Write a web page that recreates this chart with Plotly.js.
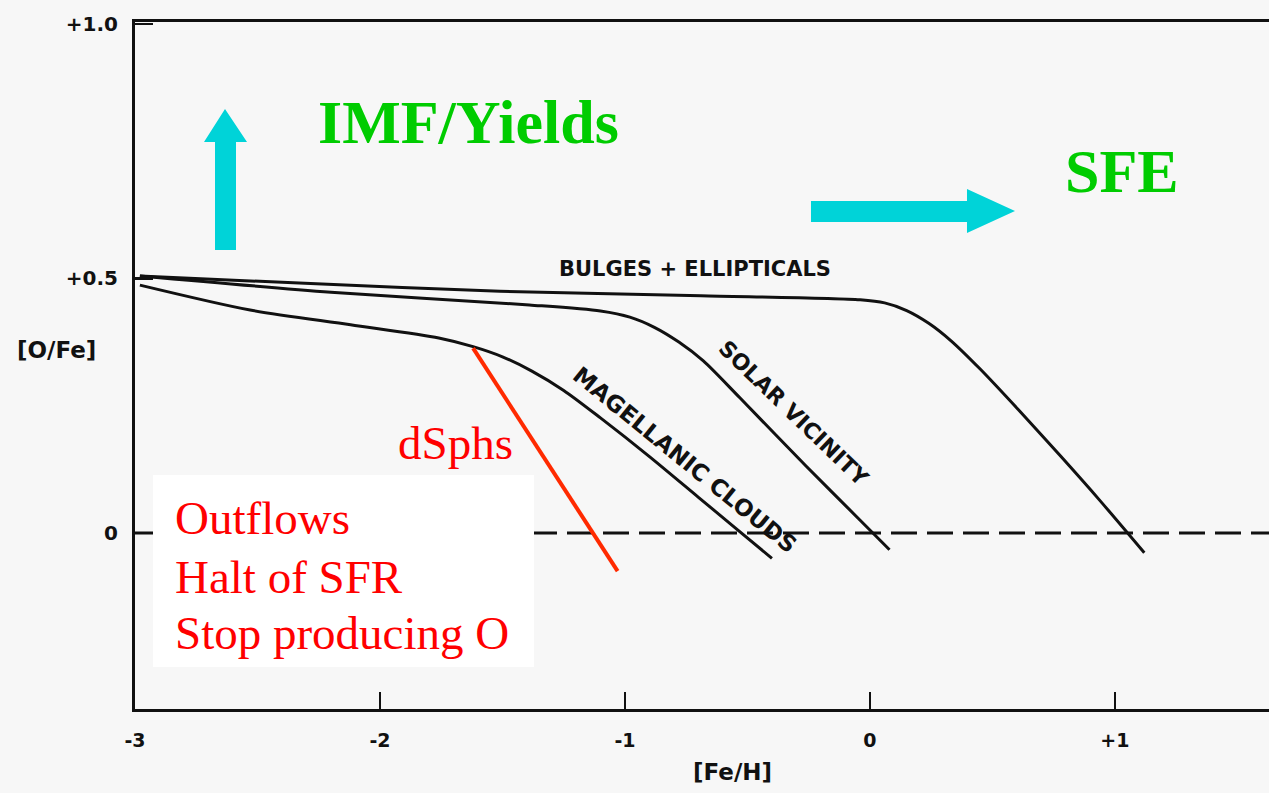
<!DOCTYPE html>
<html>
<head>
<meta charset="utf-8">
<script src="https://cdn.plot.ly/plotly-3.0.1.min.js"></script>
<style>
  html, body { margin: 0; padding: 0; background: #f7f7f7; }
  #chart { width: 1269px; height: 793px; }
</style>
</head>
<body>
<div id="chart"></div>
<script>
// [O/Fe] vs [Fe/H] tracks for different galaxy types
const bulgesFeH = [-2.98, -2.33, -1.51, -0.69, -0.04, 0.06, 0.15, 0.24, 0.33, 0.45, 0.61, 0.78, 0.94, 1.12];
const bulgesOFe = [0.505, 0.491, 0.475, 0.466, 0.458, 0.452, 0.437, 0.412, 0.378, 0.322, 0.240, 0.150, 0.063, -0.039];

const solarFeH = [-2.98, -2.20, -1.39, -1.10, -0.98, -0.88, -0.78, -0.68, -0.53, -0.26, -0.04, 0.08];
const solarOFe = [0.505, 0.473, 0.448, 0.436, 0.424, 0.404, 0.375, 0.338, 0.265, 0.131, 0.025, -0.033];

const magellanicFeH = [-2.98, -2.53, -2.12, -1.76, -1.62, -1.50, -1.38, -1.25, -1.10, -0.90, -0.70, -0.55, -0.40];
const magellanicOFe = [0.487, 0.438, 0.409, 0.383, 0.366, 0.346, 0.318, 0.280, 0.226, 0.150, 0.070, 0.010, -0.050];

const dsphFeH = [-1.62, -1.03];
const dsphOFe = [0.363, -0.075];

const solarRefFeH = [-3, 1.629];
const solarRefOFe = [0, 0];

const xTickVals = [-3, -2, -1, 0, 1];
const xTickText = ['-3', '-2', '-1', '0', '+1'];
const yTickVals = [0, 0.5, 1.0];
const yTickText = ['0', '+0.5', '+1.0'];

// axis extents and plot frame (pixels)
const X_RANGE = [-3, 1.629];
const Y_RANGE = [-0.346, 1.004];
const M = { l: 135, r: 0, t: 22, b: 84 };
const W = 1269, H = 793;
const plotW = W - M.l - M.r, plotH = H - M.t - M.b;

// pixel -> data helpers for decorative shapes
const px2x = px => X_RANGE[0] + (px - M.l) / plotW * (X_RANGE[1] - X_RANGE[0]);
const py2y = py => Y_RANGE[1] - (py - M.t) / plotH * (Y_RANGE[1] - Y_RANGE[0]);
const pathFrom = pts => 'M ' + pts.map(p => px2x(p[0]).toFixed(4) + ',' + py2y(p[1]).toFixed(4)).join(' L ') + ' Z';

const ink = '#111111';
const cyan = '#00d3d8';
const green = '#00cc00';
const red = '#ff0000';

const trackLine = { color: ink, width: 3, shape: 'spline', smoothing: 0.8 };

const traces = [
  { x: solarRefFeH, y: solarRefOFe, mode: 'lines', line: { color: ink, width: 3, dash: '26px,10px' }, hoverinfo: 'skip' },
  { x: bulgesFeH, y: bulgesOFe, mode: 'lines', line: trackLine, name: 'Bulges + Ellipticals' },
  { x: solarFeH, y: solarOFe, mode: 'lines', line: trackLine, name: 'Solar vicinity' },
  { x: magellanicFeH, y: magellanicOFe, mode: 'lines', line: trackLine, name: 'Magellanic Clouds' },
  { x: dsphFeH, y: dsphOFe, mode: 'lines', line: { color: '#ff2a00', width: 4 }, name: 'dSphs' }
];

const serif = 'Liberation Serif, Times New Roman, serif';
const sans = 'DejaVu Sans, sans-serif';

const upArrow = [[215, 250], [215, 142], [204, 142], [225, 109], [247, 142], [236, 142], [236, 250]];
const rightArrow = [[811, 201], [967, 201], [967, 189], [1015, 211], [967, 233], [967, 222], [811, 222]];

const layout = {
  width: W, height: H,
  margin: M,
  paper_bgcolor: '#f7f7f7',
  plot_bgcolor: '#f7f7f7',
  showlegend: false,
  xaxis: {
    range: X_RANGE, showgrid: false, zeroline: false,
    showline: true, mirror: true, linecolor: ink, linewidth: 3,
    ticks: 'inside', ticklen: 17, tickwidth: 2.5, tickcolor: ink,
    tickvals: xTickVals, ticktext: xTickText, ticklabelstandoff: 12,
    tickfont: { family: sans, size: 19, color: ink, weight: 'bold' }
  },
  yaxis: {
    range: Y_RANGE, showgrid: false, zeroline: false,
    showline: true, mirror: false, linecolor: ink, linewidth: 3,
    ticks: 'inside', ticklen: 18, tickwidth: 2.5, tickcolor: ink,
    tickvals: yTickVals, ticktext: yTickText, ticklabelstandoff: 10,
    tickfont: { family: sans, size: 20, color: ink, weight: 'bold' }
  },
  shapes: [
    { type: 'rect', xref: 'x', yref: 'y', x0: px2x(153), x1: px2x(534), y0: py2y(667), y1: py2y(475),
      fillcolor: '#ffffff', line: { width: 0 }, layer: 'above' },
    { type: 'path', xref: 'x', yref: 'y', path: pathFrom(upArrow), fillcolor: cyan, line: { width: 0 }, layer: 'above' },
    { type: 'path', xref: 'x', yref: 'y', path: pathFrom(rightArrow), fillcolor: cyan, line: { width: 0 }, layer: 'above' }
  ],
  annotations: [
    { x: px2x(468), y: py2y(122), text: '<b>IMF/Yields</b>', showarrow: false, xanchor: 'center', yanchor: 'middle',
      font: { family: serif, size: 62, color: green } },
    { x: px2x(1122), y: py2y(171), text: '<b>SFE</b>', showarrow: false, xanchor: 'center', yanchor: 'middle',
      font: { family: serif, size: 62, color: green } },
    { x: px2x(455), y: py2y(443), text: 'dSphs', showarrow: false, xanchor: 'center', yanchor: 'middle',
      font: { family: serif, size: 47, color: red } },
    { x: px2x(173), y: py2y(518), text: 'Outflows', showarrow: false, xanchor: 'left', yanchor: 'middle',
      font: { family: serif, size: 47, color: red } },
    { x: px2x(173), y: py2y(577), text: 'Halt of SFR', showarrow: false, xanchor: 'left', yanchor: 'middle',
      font: { family: serif, size: 47, color: red } },
    { x: px2x(173), y: py2y(633), text: 'Stop producing O', showarrow: false, xanchor: 'left', yanchor: 'middle',
      font: { family: serif, size: 47, color: red } },
    { x: px2x(695), y: py2y(269), text: '<b>BULGES + ELLIPTICALS</b>', showarrow: false, xanchor: 'center', yanchor: 'middle',
      font: { family: sans, size: 21, color: ink } },
    { x: px2x(794), y: py2y(413), text: '<b>SOLAR VICINITY</b>', textangle: 44, showarrow: false,
      font: { family: sans, size: 22, color: ink } },
    { x: px2x(685), y: py2y(460), text: '<b>MAGELLANIC CLOUDS</b>', textangle: 39, showarrow: false,
      font: { family: sans, size: 23, color: ink } },
    { xref: 'paper', yref: 'paper', x: (56 - M.l) / plotW, y: (H - M.b - 350) / plotH, text: '<b>[O/Fe]</b>',
      showarrow: false, xanchor: 'center', yanchor: 'middle', font: { family: sans, size: 23, color: ink } },
    { x: px2x(732), yref: 'paper', y: (H - M.b - 772) / plotH, text: '<b>[Fe/H]</b>',
      showarrow: false, xanchor: 'center', yanchor: 'middle', font: { family: sans, size: 23, color: ink } }
  ]
};

Plotly.newPlot('chart', traces, layout, { displayModeBar: false, staticPlot: true });
</script>
</body>
</html>
